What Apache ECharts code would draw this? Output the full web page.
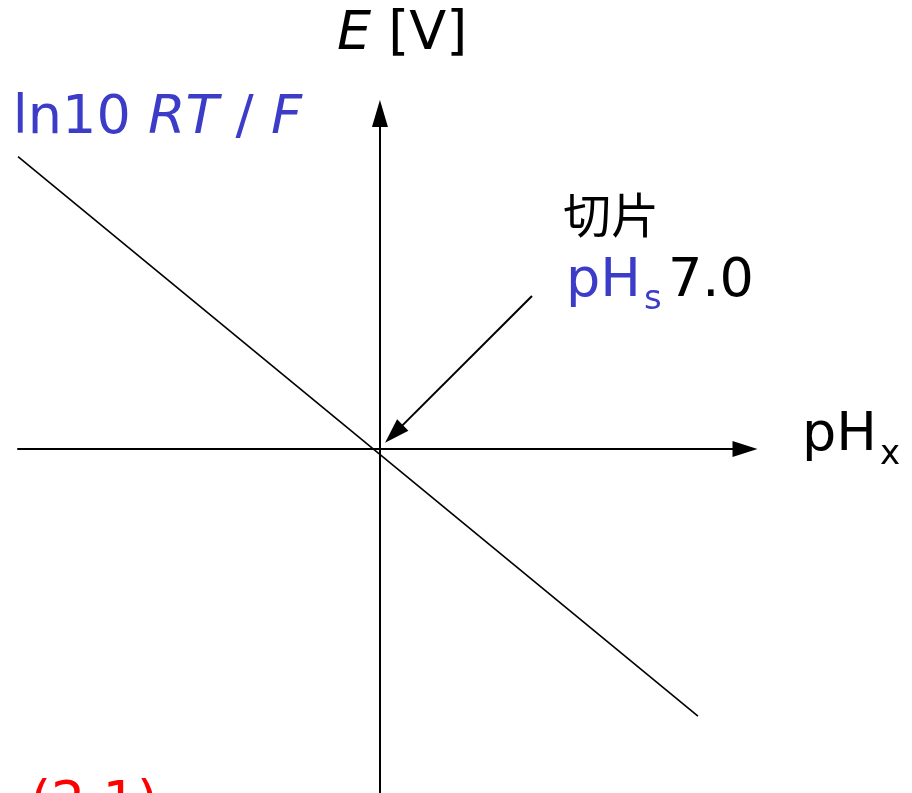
<!DOCTYPE html>
<html>
<head>
<meta charset="utf-8">
<script src="https://cdn.jsdelivr.net/npm/echarts@6/dist/echarts.min.js"></script>
<style>
  html, body { margin: 0; padding: 0; background: #ffffff; }
  #chart { width: 912px; height: 793px; }
</style>
</head>
<body>
<div id="chart"></div>
<script>
// Potential E [V] versus sample pH: the calibration line crosses E = 0 at pH_s.
const pHs = 7.0;                      // intercept (切片) on the pH axis
const phRange = [0.0, 14.06];         // extent of the pH_x axis
const eRange = [-0.479, 0.467];       // extent of the E axis [V]
const linePH = [0.0, 13.15];          // pH_x at both ends of the drawn line
const lineE = [0.407, -0.372];        // E [V] at both ends of the drawn line
const calloutPH = [9.94, 7.27];       // callout arrow: tail, head (pH_x)
const calloutE = [0.213, 0.021];      // callout arrow: tail, head (E)

const BLUE = '#3c3cc8';
const LATIN = '"DejaVu Sans", "Noto Sans", sans-serif';
const CJK = '"Noto Sans CJK JP", "Noto Sans CJK SC", sans-serif';

// x values are measured from the intercept so the E axis sits on pH_s
const lineData = linePH.map((p, i) => [p - pHs, lineE[i]]);
const calloutData = calloutPH.map((p, i) => ({ coord: [p - pHs, calloutE[i]] }));
calloutData[0].symbol = 'none';
calloutData[1].symbol = 'triangle';

const chart = echarts.init(document.getElementById('chart'), null, { renderer: 'canvas' });

const axisCommon = {
  type: 'value',
  splitLine: { show: false },
  axisTick: { show: false },
  axisLabel: { show: false },
  axisLine: {
    show: true,
    onZero: true,
    symbol: ['none', 'triangle'],
    lineStyle: { color: '#000', width: 2 }
  }
};

function txt(x, y, text, size, color, family, italic) {
  return {
    type: 'text', x: x, y: y, silent: true,
    style: {
      text: text,
      font: (italic ? 'italic ' : '') + size + 'px ' + (family || LATIN),
      fill: color,
      align: 'left',
      verticalAlign: 'middle'
    }
  };
}

chart.setOption({
  animation: false,
  backgroundColor: '#ffffff',
  grid: { left: 18, right: 167, top: 113.5, bottom: 0, containLabel: false },
  xAxis: Object.assign({}, axisCommon, {
    min: phRange[0] - pHs, max: phRange[1] - pHs,
    axisLine: Object.assign({}, axisCommon.axisLine, { symbolSize: [16, 25] })
  }),
  yAxis: Object.assign({}, axisCommon, {
    min: eRange[0], max: eRange[1],
    axisLine: Object.assign({}, axisCommon.axisLine, { symbolSize: [16, 27] })
  }),
  series: [{
    type: 'line',
    data: lineData,
    showSymbol: false,
    symbol: 'none',
    silent: true,
    lineStyle: { color: '#000', width: 1.6 },
    markLine: {
      silent: true,
      animation: false,
      symbolSize: [16, 25],
      label: { show: false },
      lineStyle: { color: '#000', width: 2, type: 'solid' },
      data: [calloutData]
    }
  }],
  graphic: [
    // E [V]
    {
      type: 'text', x: 337, y: 35, silent: true,
      style: {
        text: '{i|E}{n| [V]}',
        verticalAlign: 'middle',
        rich: {
          i: { font: 'italic 54px ' + LATIN, fill: '#000' },
          n: { font: '54px ' + LATIN, fill: '#000' }
        }
      }
    },
    // slope label
    {
      type: 'text', x: 302, y: 119, silent: true,
      style: {
        text: '{n|ln10 }{i|RT}{n| / }{i|F}',
        align: 'right',
        verticalAlign: 'middle',
        rich: {
          i: { font: 'italic 54px ' + LATIN, fill: BLUE },
          n: { font: '54px ' + LATIN, fill: BLUE }
        }
      }
    },
    txt(563, 215, '切片', 48, '#000', CJK),
    txt(566, 282, 'pH', 54, BLUE),
    txt(644, 300, 's', 34, BLUE),
    txt(668, 282, '7.0', 54, '#000'),
    txt(802, 436, 'pH', 54, '#000'),
    txt(880, 455, 'x', 34, '#000'),
    txt(30, 805, '(2.1)', 54, '#ff0000')
  ]
});
</script>
</body>
</html>
